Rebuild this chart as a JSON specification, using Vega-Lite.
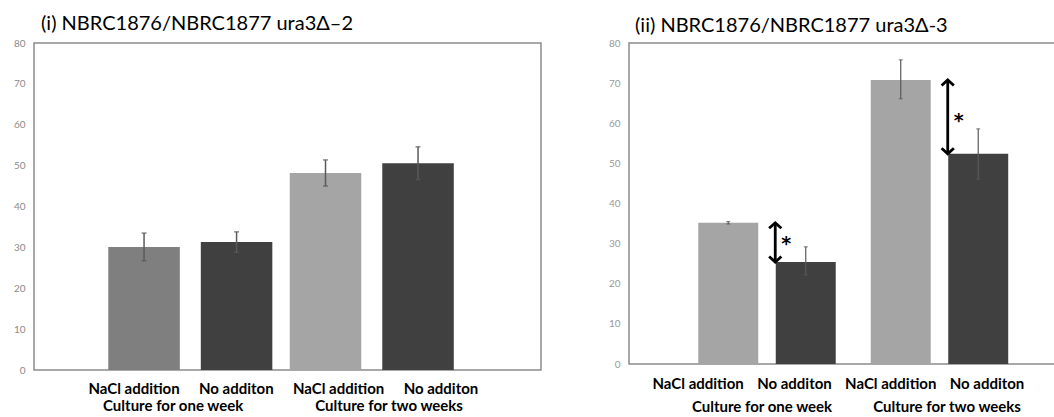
{
  "$schema": "https://vega.github.io/schema/vega-lite/v6.json",
  "background": "white",
  "padding": {"left": 12, "top": 13, "right": 0, "bottom": 0},
  "config": {
    "font": "Lato",
    "view": {"stroke": "#8c8c8c", "strokeWidth": 1.5},
    "axis": {"grid": false}
  },
  "datasets": {
    "bars": [
      {"panel": "i", "group": "Culture for one week", "treatment": "NaCl addition", "bar": "1w NaCl", "mean": 30.1, "lo": 26.7, "hi": 33.5},
      {"panel": "i", "group": "Culture for one week", "treatment": "No additon", "bar": "1w No", "mean": 31.3, "lo": 28.8, "hi": 33.8},
      {"panel": "i", "group": "Culture for two weeks", "treatment": "NaCl addition", "bar": "2w NaCl", "mean": 48.2, "lo": 45.0, "hi": 51.4},
      {"panel": "i", "group": "Culture for two weeks", "treatment": "No additon", "bar": "2w No", "mean": 50.6, "lo": 46.6, "hi": 54.6},
      {"panel": "ii", "group": "Culture for one week", "treatment": "NaCl addition", "bar": "1w NaCl", "mean": 35.2, "lo": 34.9, "hi": 35.5},
      {"panel": "ii", "group": "Culture for one week", "treatment": "No additon", "bar": "1w No", "mean": 25.4, "lo": 22.2, "hi": 29.2},
      {"panel": "ii", "group": "Culture for two weeks", "treatment": "NaCl addition", "bar": "2w NaCl", "mean": 70.8, "lo": 66.1, "hi": 75.8},
      {"panel": "ii", "group": "Culture for two weeks", "treatment": "No additon", "bar": "2w No", "mean": 52.4, "lo": 46.1, "hi": 58.6}
    ],
    "groups": [
      {"group": "Culture for one week"},
      {"group": "Culture for two weeks"}
    ],
    "arrows": [
      {"panel": "ii", "group": "Culture for one week", "from": 35.2, "to": 25.4, "star": 30.9, "label": "*"},
      {"panel": "ii", "group": "Culture for two weeks", "from": 70.8, "to": 52.4, "star": 61.5, "label": "*"}
    ]
  },
  "spacing": 65,
  "resolve": {"scale": {"color": "independent", "xOffset": "independent"}},
  "hconcat": [
    {
      "width": 507,
      "height": 327,
      "title": {"text": "(i) NBRC1876/NBRC1877 ura3Δ–2", "anchor": "start", "frame": "group", "dx": 7, "fontSize": 20, "fontWeight": "normal", "font": "Lato", "color": "black", "offset": 4},
      "resolve": {"scale": {"x": "independent"}},
      "layer": [
        {
          "data": {"name": "bars"},
          "transform": [{"filter": "datum.panel === 'i'"}],
          "layer": [
            {
              "mark": {"type": "bar"},
              "encoding": {
                "x": {"field": "group", "type": "nominal", "sort": ["Culture for one week", "Culture for two weeks"], "scale": {"paddingInner": 0.096, "paddingOuter": 0.445, "align": 0.46}, "axis": null},
                "xOffset": {"field": "treatment", "type": "nominal", "sort": ["NaCl addition", "No additon"], "scale": {"paddingInner": 0.227, "paddingOuter": 0}},
                "y": {"field": "mean", "type": "quantitative", "scale": {"domain": [0, 80]},
                  "axis": {"title": null, "values": [0, 10, 20, 30, 40, 50, 60, 70, 80], "domain": false, "ticks": false, "labelPadding": 9, "labelFontSize": 10, "labelColor": "#8a8a8a", "labelFont": "Lato"}},
                "color": {"field": "bar", "type": "nominal", "scale": {"domain": ["1w NaCl", "1w No", "2w NaCl", "2w No"], "range": ["#7f7f7f", "#404040", "#a5a5a5", "#404040"]}, "legend": null}
              }
            },
            {
              "mark": {"type": "rule", "color": "#5a5a5a", "strokeWidth": 1.5},
              "encoding": {
                "x": {"field": "group", "type": "nominal", "sort": ["Culture for one week", "Culture for two weeks"]},
                "xOffset": {"field": "treatment", "type": "nominal", "sort": ["NaCl addition", "No additon"]},
                "y": {"field": "lo", "type": "quantitative"},
                "y2": {"field": "hi"}
              }
            },
            {
              "mark": {"type": "tick", "color": "#5a5a5a", "thickness": 1.5, "size": 5},
              "encoding": {
                "x": {"field": "group", "type": "nominal", "sort": ["Culture for one week", "Culture for two weeks"]},
                "xOffset": {"field": "treatment", "type": "nominal", "sort": ["NaCl addition", "No additon"]},
                "y": {"field": "hi", "type": "quantitative"}
              }
            },
            {
              "mark": {"type": "tick", "color": "#5a5a5a", "thickness": 1.5, "size": 5},
              "encoding": {
                "x": {"field": "group", "type": "nominal", "sort": ["Culture for one week", "Culture for two weeks"]},
                "xOffset": {"field": "treatment", "type": "nominal", "sort": ["NaCl addition", "No additon"]},
                "y": {"field": "lo", "type": "quantitative"}
              }
            }
          ]
        },
        {
          "data": {"name": "bars"},
          "transform": [{"filter": "datum.panel === 'i'"}],
          "mark": {"type": "text", "baseline": "top", "dy": 12, "fontSize": 15, "fontWeight": "bold", "font": "Lato", "color": "black"},
          "encoding": {
            "x": {"field": "bar", "type": "nominal", "sort": ["1w NaCl", "1w No", "2w NaCl", "2w No"], "scale": {"type": "point", "padding": 0.978, "align": 0.5}, "axis": null},
            "y": {"datum": 0, "type": "quantitative"},
            "text": {"field": "treatment"}
          }
        },
        {
          "data": {"name": "groups"},
          "mark": {"type": "text", "baseline": "top", "dy": 29, "fontSize": 15, "fontWeight": "bold", "font": "Lato", "color": "black"},
          "encoding": {
            "x": {"field": "group", "type": "nominal", "sort": ["Culture for one week", "Culture for two weeks"], "scale": {"type": "point", "padding": 0.674, "align": 0.478}, "axis": null},
            "y": {"datum": 0, "type": "quantitative"},
            "text": {"field": "group"}
          }
        }
      ]
    },
    {
      "width": 430,
      "height": 321,
      "title": {"text": "(ii) NBRC1876/NBRC1877 ura3Δ-3", "anchor": "start", "frame": "group", "dx": 6, "fontSize": 20, "fontWeight": "normal", "font": "Lato", "color": "black", "offset": 2},
      "resolve": {"scale": {"x": "independent"}},
      "layer": [
        {
          "layer": [
            {
              "data": {"name": "bars"},
              "transform": [{"filter": "datum.panel === 'ii'"}],
              "layer": [
                {
                  "mark": {"type": "bar"},
                  "encoding": {
                    "x": {"field": "group", "type": "nominal", "sort": ["Culture for one week", "Culture for two weeks"], "scale": {"paddingInner": 0.203, "paddingOuter": 0.348, "align": 0.577}, "axis": null},
                    "xOffset": {"field": "treatment", "type": "nominal", "sort": ["NaCl addition", "No additon"], "scale": {"paddingInner": 0.226, "paddingOuter": 0}},
                    "y": {"field": "mean", "type": "quantitative", "scale": {"domain": [0, 80]},
                      "axis": {"title": null, "values": [0, 10, 20, 30, 40, 50, 60, 70, 80], "domain": false, "ticks": false, "labelPadding": 9, "labelFontSize": 10, "labelColor": "#9a9a9a", "labelFont": "Lato"}},
                    "color": {"field": "bar", "type": "nominal", "scale": {"domain": ["1w NaCl", "1w No", "2w NaCl", "2w No"], "range": ["#a5a5a5", "#404040", "#a5a5a5", "#404040"]}, "legend": null}
                  }
                },
                {
                  "mark": {"type": "rule", "color": "#5a5a5a", "strokeWidth": 1.2},
                  "encoding": {
                    "x": {"field": "group", "type": "nominal", "sort": ["Culture for one week", "Culture for two weeks"]},
                    "xOffset": {"field": "treatment", "type": "nominal", "sort": ["NaCl addition", "No additon"]},
                    "y": {"field": "lo", "type": "quantitative"},
                    "y2": {"field": "hi"}
                  }
                },
                {
                  "mark": {"type": "tick", "color": "#5a5a5a", "thickness": 1.2, "size": 4},
                  "encoding": {
                    "x": {"field": "group", "type": "nominal", "sort": ["Culture for one week", "Culture for two weeks"]},
                    "xOffset": {"field": "treatment", "type": "nominal", "sort": ["NaCl addition", "No additon"]},
                    "y": {"field": "hi", "type": "quantitative"}
                  }
                },
                {
                  "mark": {"type": "tick", "color": "#5a5a5a", "thickness": 1.2, "size": 4},
                  "encoding": {
                    "x": {"field": "group", "type": "nominal", "sort": ["Culture for one week", "Culture for two weeks"]},
                    "xOffset": {"field": "treatment", "type": "nominal", "sort": ["NaCl addition", "No additon"]},
                    "y": {"field": "lo", "type": "quantitative"}
                  }
                }
              ]
            },
            {
              "data": {"name": "arrows"},
              "layer": [
                {
                  "mark": {"type": "rule", "color": "black", "strokeWidth": 2.8},
                  "encoding": {
                    "x": {"field": "group", "type": "nominal", "sort": ["Culture for one week", "Culture for two weeks"], "bandPosition": 0.56},
                    "y": {"field": "from", "type": "quantitative"},
                    "y2": {"field": "to"}
                  }
                },
                {
                  "mark": {"type": "point", "shape": "M-1,0.9L0,0L1,0.9", "filled": false, "stroke": "black", "strokeWidth": 2.8, "size": 150, "opacity": 1},
                  "encoding": {
                    "x": {"field": "group", "type": "nominal", "sort": ["Culture for one week", "Culture for two weeks"], "bandPosition": 0.56},
                    "y": {"field": "from", "type": "quantitative"}
                  }
                },
                {
                  "mark": {"type": "point", "shape": "M-1,-0.9L0,0L1,-0.9", "filled": false, "stroke": "black", "strokeWidth": 2.8, "size": 150, "opacity": 1},
                  "encoding": {
                    "x": {"field": "group", "type": "nominal", "sort": ["Culture for one week", "Culture for two weeks"], "bandPosition": 0.56},
                    "y": {"field": "to", "type": "quantitative"}
                  }
                },
                {
                  "mark": {"type": "text", "dx": 11, "dy": 4, "fontSize": 19, "fontWeight": "bold", "font": "DejaVu Sans", "color": "black"},
                  "encoding": {
                    "x": {"field": "group", "type": "nominal", "sort": ["Culture for one week", "Culture for two weeks"], "bandPosition": 0.56},
                    "y": {"field": "star", "type": "quantitative"},
                    "text": {"field": "label"}
                  }
                }
              ]
            }
          ]
        },
        {
          "data": {"name": "bars"},
          "transform": [{"filter": "datum.panel === 'ii'"}],
          "mark": {"type": "text", "baseline": "top", "dy": 13, "fontSize": 15, "fontWeight": "bold", "font": "Lato", "color": "black"},
          "encoding": {
            "x": {"field": "bar", "type": "nominal", "sort": ["1w NaCl", "1w No", "2w NaCl", "2w No"], "scale": {"type": "point", "padding": 0.733, "align": 0.49}, "axis": null},
            "y": {"datum": 0, "type": "quantitative"},
            "text": {"field": "treatment"}
          }
        },
        {
          "data": {"name": "groups"},
          "mark": {"type": "text", "baseline": "top", "dy": 36, "fontSize": 15, "fontWeight": "bold", "font": "Lato", "color": "black"},
          "encoding": {
            "x": {"field": "group", "type": "nominal", "sort": ["Culture for one week", "Culture for two weeks"], "scale": {"type": "point", "padding": 0.662, "align": 0.543}, "axis": null},
            "y": {"datum": 0, "type": "quantitative"},
            "text": {"field": "group"}
          }
        }
      ]
    }
  ]
}
